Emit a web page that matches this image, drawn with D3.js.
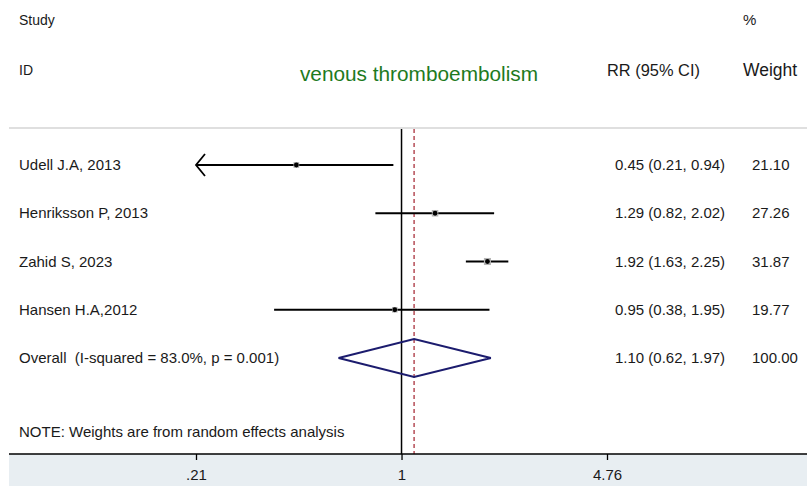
<!DOCTYPE html>
<html>
<head>
<meta charset="utf-8">
<script src="https://cdn.jsdelivr.net/npm/d3@7"></script>
<style>
  body { margin: 0; background: #fff; }
  svg { display: block; font-family: "Liberation Sans", Arial, sans-serif; }
</style>
</head>
<body>
<svg id="chart" width="807" height="486"></svg>
<script>
// 研究名称、效应量和权重
const studies = ["Udell J.A, 2013", "Henriksson P, 2013", "Zahid S, 2023", "Hansen H.A,2012"];
const rr = [0.45, 1.29, 1.92, 0.95];
const lower = [0.21, 0.82, 1.63, 0.38];
const upper = [0.94, 2.02, 2.25, 1.95];
const weights = [21.10, 27.26, 31.87, 19.77];

// 合并效应
const overallLabel = "Overall  (I-squared = 83.0%, p = 0.001)";
const overall = { rr: 1.10, lower: 0.62, upper: 1.97, weight: 100.00 };

// 坐标轴刻度
const tickValues = [0.21, 1, 4.76];
const tickLabels = [".21", "1", "4.76"];

const svg = d3.select("#chart");
const W = 807, H = 486;
const axisY = 454;

// 对数比例尺
const x = d3.scaleLog().domain([0.21, 4.76]).range([196, 607]);

// 行位置
const rows = studies.concat([overallLabel]);
const y = d3.scalePoint().domain(rows).range([165, 358]);

const fmt = d3.format(".2f");

// 底部灰色区域
svg.append("rect")
  .attr("x", 9).attr("y", axisY).attr("width", W - 9).attr("height", H - axisY)
  .attr("fill", "#e8eef2");

// 表头
const head = svg.append("g").attr("fill", "#1a1a1a");
head.append("text").attr("x", 19).attr("y", 25).attr("font-size", 14).text("Study");
head.append("text").attr("x", 19).attr("y", 75).attr("font-size", 14).text("ID");
head.append("text").attr("x", 607).attr("y", 76).attr("font-size", 16.4).text("RR (95% CI)");
head.append("text").attr("x", 743).attr("y", 25).attr("font-size", 15).text("%");
head.append("text").attr("x", 743).attr("y", 76).attr("font-size", 17.5).text("Weight");

svg.append("text")
  .attr("x", 419).attr("y", 81)
  .attr("text-anchor", "middle")
  .attr("font-size", 20.8)
  .attr("fill", "#1e7a1e")
  .text("venous thromboembolism");

// 分隔线
svg.append("line")
  .attr("x1", 9).attr("x2", W).attr("y1", 128).attr("y2", 128)
  .attr("stroke", "#d4d4d4").attr("stroke-width", 1.5);

// 无效线 (RR = 1)
svg.append("line")
  .attr("x1", x(1)).attr("x2", x(1)).attr("y1", 129).attr("y2", axisY)
  .attr("stroke", "#000").attr("stroke-width", 1.5);

// 合并效应虚线
svg.append("line")
  .attr("x1", x(overall.rr)).attr("x2", x(overall.rr)).attr("y1", 129).attr("y2", axisY)
  .attr("stroke", "#a3202c").attr("stroke-width", 1.2)
  .attr("stroke-dasharray", "4,3");

// 研究数据
const data = studies.map((s, i) => ({
  name: s, rr: rr[i], lo: lower[i], hi: upper[i], w: weights[i]
}));

const xMin = x.domain()[0];
const g = svg.append("g");

data.forEach(d => {
  const cy = y(d.name);
  const clipped = d.lo <= xMin;
  g.append("line")
    .attr("x1", x(Math.max(d.lo, xMin))).attr("x2", x(d.hi))
    .attr("y1", cy).attr("y2", cy)
    .attr("stroke", "#000").attr("stroke-width", 2);
  if (clipped) {
    const ax = x(xMin);
    g.append("path")
      .attr("d", `M${ax + 9},${cy - 11}L${ax},${cy}L${ax + 9},${cy + 11}`)
      .attr("fill", "none").attr("stroke", "#000").attr("stroke-width", 1.8);
  }
  const side = 1.25 * Math.sqrt(d.w);
  g.append("rect")
    .attr("x", x(d.rr) - side / 2).attr("y", cy - side / 2)
    .attr("width", side).attr("height", side)
    .attr("fill", "#b4b4b4");
  g.append("circle")
    .attr("cx", x(d.rr)).attr("cy", cy).attr("r", 2.4)
    .attr("fill", "#000");
});

// 合并效应菱形
const oy = y(overallLabel);
svg.append("path")
  .attr("d", `M${x(overall.lower)},${oy}L${x(overall.rr)},${oy - 19}L${x(overall.upper)},${oy}L${x(overall.rr)},${oy + 19}Z`)
  .attr("fill", "none").attr("stroke", "#1c1c6e").attr("stroke-width", 2);

// 行标签与数值
const txt = svg.append("g").attr("font-size", 15).attr("fill", "#1a1a1a");
data.forEach(d => {
  const cy = y(d.name) + 5;
  txt.append("text").attr("x", 19).attr("y", cy).text(d.name);
  txt.append("text").attr("x", 615).attr("y", cy)
    .text(`${fmt(d.rr)} (${fmt(d.lo)}, ${fmt(d.hi)})`);
  txt.append("text").attr("x", 752).attr("y", cy).text(fmt(d.w));
});
txt.append("text").attr("x", 19).attr("y", oy + 5)
  .attr("xml:space", "preserve").style("white-space", "pre")
  .text(overallLabel);
txt.append("text").attr("x", 615).attr("y", oy + 5)
  .text(`${fmt(overall.rr)} (${fmt(overall.lower)}, ${fmt(overall.upper)})`);
txt.append("text").attr("x", 752).attr("y", oy + 5).text(fmt(overall.weight));

txt.append("text").attr("x", 19).attr("y", 437)
  .text("NOTE: Weights are from random effects analysis");

// x 轴
const axis = d3.axisBottom(x)
  .tickValues(tickValues)
  .tickFormat((d, i) => tickLabels[i])
  .tickSize(6).tickSizeOuter(0);

const axG = svg.append("g")
  .attr("transform", `translate(0,${axisY})`)
  .call(axis);
axG.select(".domain").remove();
axG.selectAll(".tick line").attr("stroke", "#000").attr("stroke-width", 1.3);
axG.selectAll(".tick text")
  .attr("font-size", 15).attr("fill", "#1a1a1a")
  .attr("font-family", "Liberation Sans, Arial, sans-serif")
  .attr("dy", "0.71em").attr("y", 15);

svg.append("line")
  .attr("x1", 9).attr("x2", W).attr("y1", axisY).attr("y2", axisY)
  .attr("stroke", "#000").attr("stroke-width", 1.3);
</script>
</body>
</html>
